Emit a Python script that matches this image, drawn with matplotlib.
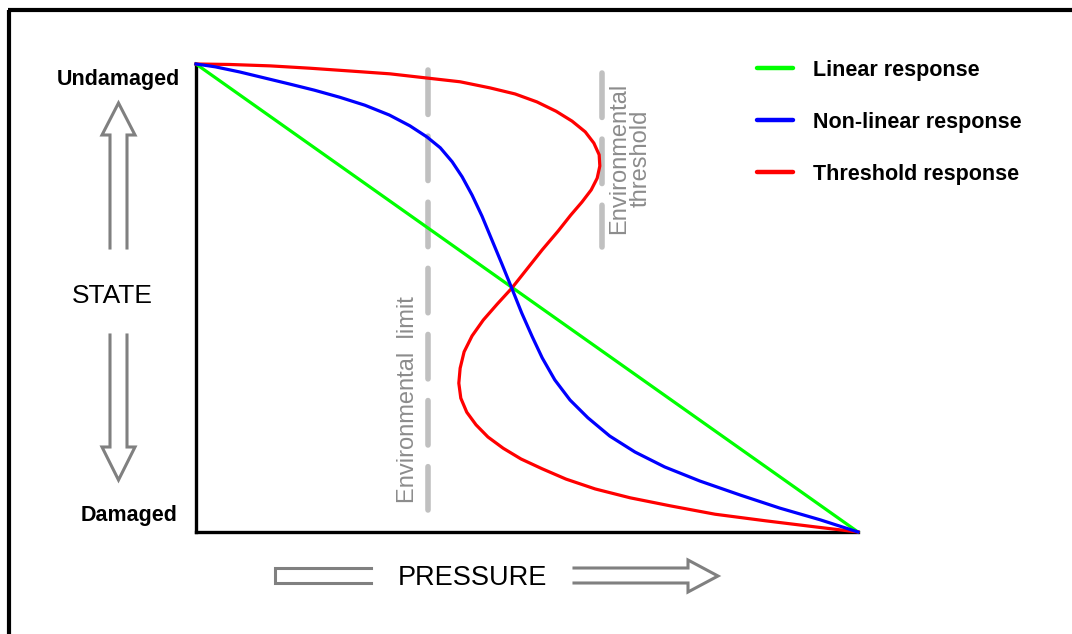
import matplotlib
matplotlib.use("Agg")
import matplotlib.pyplot as plt
from matplotlib.lines import Line2D

plt.rcParams['font.family'] = ['Liberation Sans', 'DejaVu Sans']

# ---- data (pressure 0..100, state 0..100 with 100 = undamaged) ----
linear_x = [0, 100]
linear_y = [100, 0]

nonlinear_x = [0, 2.9, 6.6, 10.4, 14.2, 17.9, 21.7, 25.5, 29.2, 32.3, 34.9, 36.9,
               38.7, 40.2, 41.7, 43.2, 44.7, 46.2, 47.7, 49.2, 50.8, 52.3, 54.2,
               56.5, 59.2, 62.5, 66.3, 70.8, 76.1, 82.2, 88.2, 94.3, 100]
nonlinear_y = [100, 99.4, 98.3, 97.0, 95.7, 94.4, 92.9, 91.2, 89.1, 86.8, 84.4, 82.1,
               79.1, 75.9, 72.0, 67.5, 62.4, 57.3, 52.1, 46.8, 41.7, 37.2, 32.5,
               28.2, 24.4, 20.5, 17.1, 13.9, 10.9, 7.9, 5.1, 2.6, 0]

threshold_x = [0, 5.1, 11.2, 17.2, 23.3, 29.3, 34.9, 39.9, 44.4, 48.2, 51.5, 54.4,
               56.8, 58.8, 60.1, 60.9, 61.0, 60.6, 59.7, 58.3, 56.6, 54.7, 52.3,
               50.0, 47.7, 45.5, 43.4, 41.7, 40.5, 39.9, 39.7, 40.0, 40.9, 42.3,
               44.1, 46.4, 49.1, 52.3, 55.9, 60.3, 65.6, 71.6, 78.4, 86.0, 93.5, 100]
threshold_y = [100, 99.9, 99.6, 99.1, 98.5, 97.9, 97.0, 96.2, 94.9, 93.6, 91.9, 89.9,
               87.8, 85.5, 83.1, 80.6, 78.2, 75.6, 73.1, 70.5, 67.7, 64.3, 60.3,
               56.2, 52.1, 48.7, 45.3, 41.9, 38.5, 35.0, 31.8, 28.6, 25.6, 22.9,
               20.3, 17.9, 15.6, 13.5, 11.3, 9.2, 7.3, 5.6, 3.8, 2.4, 1.1, 0]

env_limit_x = 35.0
env_limit_span = [98.7, 4.7]
env_threshold_x = 61.3
env_threshold_span = [98.1, 60.9]

series_labels = ["Linear response", "Non-linear response", "Threshold response"]
series_colors = ["#00ff00", "#0000ff", "#ff0000"]

W, H = 1072, 634
fig = plt.figure(figsize=(W / 100, H / 100), dpi=100)
fig.patch.set_facecolor("white")

# overlay in pixel coordinates for decoration
ov = fig.add_axes([0, 0, 1, 1], zorder=0)
ov.set_xlim(0, W)
ov.set_ylim(H, 0)
ov.axis("off")

# main axes
ax = fig.add_axes([196 / W, 1 - 532 / H, 662 / W, 468 / H], zorder=1)
ax.patch.set_alpha(0)
ax.set_xlim(0, 100)
ax.set_ylim(0, 100)
ax.set_xticks([])
ax.set_yticks([])
for s in ["top", "right"]:
    ax.spines[s].set_visible(False)
for s in ["left", "bottom"]:
    ax.spines[s].set_linewidth(2.4)
    ax.spines[s].set_color("black")

grey_dash = dict(color="#c0c0c0", linewidth=4, solid_capstyle="round",
                 dash_capstyle="round", linestyle=(0, (8.0, 3.9)), clip_on=False)
ax.plot([env_limit_x, env_limit_x], env_limit_span, **grey_dash)
ax.plot([env_threshold_x, env_threshold_x], env_threshold_span, **grey_dash)

ax.plot(linear_x, linear_y, color=series_colors[0], lw=2.3, clip_on=False,
        label=series_labels[0], zorder=3)
ax.plot(threshold_x, threshold_y, color=series_colors[2], lw=2.3, clip_on=False,
        label=series_labels[2], zorder=3, solid_joinstyle="round")
ax.plot(nonlinear_x, nonlinear_y, color=series_colors[1], lw=2.3, clip_on=False,
        label=series_labels[1], zorder=4, solid_joinstyle="round")

handles = [Line2D([], [], color=c, lw=3.2, solid_capstyle="round") for c in series_colors]
ax.legend(handles, series_labels, loc="upper left",
          bbox_to_anchor=(757 / W, 1 - 60 / H), bbox_transform=fig.transFigure,
          frameon=False, borderpad=0, borderaxespad=0, handlelength=1.67,
          handletextpad=0.93, labelspacing=1.44,
          prop=dict(family="Liberation Sans", weight="bold", size=15.5))

# rotated grey annotations
ax.text(408, 400, "Environmental  limit", transform=ov.transData, rotation=90,
        ha="center", va="center", color="#8c8c8c", fontsize=17)
ax.text(630, 158, "Environmental\nthreshold", transform=ov.transData, rotation=90,
        ha="center", va="center", color="#8c8c8c", fontsize=17, linespacing=1.0)

# border frame
ov.plot([8, W], [10, 10], color="black", lw=3, solid_capstyle="butt")
ov.plot([9, 9], [10, H], color="black", lw=3, solid_capstyle="butt")

# state / pressure labels
ov.text(180, 79, "Undamaged", ha="right", va="center", fontsize=15.5, fontweight="bold")
ov.text(178, 516, "Damaged", ha="right", va="center", fontsize=15.5, fontweight="bold")
ov.text(112, 296, "STATE", ha="center", va="center", fontsize=19)
ov.text(472, 578, "PRESSURE", ha="center", va="center", fontsize=19.5)

arrow_kw = dict(color="#808080", lw=2.2, solid_joinstyle="miter")
# up arrow
ov.plot([110, 110, 102, 118.5, 135, 127, 127], [248, 135, 135, 103, 135, 135, 248], **arrow_kw)
# down arrow
ov.plot([110, 110, 102, 118.5, 135, 127, 127], [335, 447, 447, 480, 447, 447, 335], **arrow_kw)
# left pressure bar
ov.plot([371, 275, 275, 371], [568, 568, 583, 583], **arrow_kw)
# right pressure arrow
ov.plot([574, 688, 688, 718, 688, 688, 574], [568, 568, 560, 576, 592, 583, 583], **arrow_kw)

fig.savefig("out.png", dpi=100)
